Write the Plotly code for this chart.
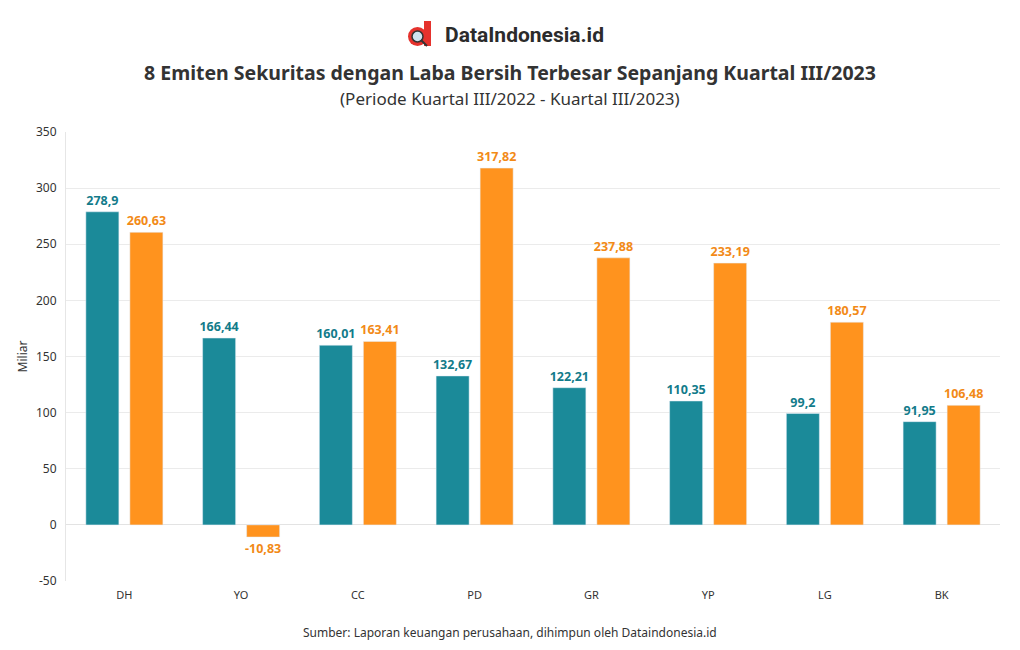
import plotly.graph_objects as go

categories = ["DH", "YO", "CC", "PD", "GR", "YP", "LG", "BK"]
q3_2022 = [278.9, 166.44, 160.01, 132.67, 122.21, 110.35, 99.2, 91.95]
q3_2023 = [260.63, -10.83, 163.41, 317.82, 237.88, 233.19, 180.57, 106.48]
series_names = ["Kuartal III/2022", "Kuartal III/2023"]
y_ticks = [-50, 0, 50, 100, 150, 200, 250, 300, 350]

teal = "#1b8a99"
orange = "#ff931e"
teal_txt = "#127b8a"
orange_txt = "#f28a17"

def fmt(v):
    s = ("%.2f" % v).rstrip("0").rstrip(".")
    return s.replace(".", ",")

fig = go.Figure()
fig.add_trace(go.Bar(x=categories, y=q3_2022, name=series_names[0], marker_color=teal,
                     text=[fmt(v) for v in q3_2022], textposition="outside",
                     textfont=dict(color=teal_txt, size=12.5, family="Noto Sans", weight="bold"),
                     constraintext="none", cliponaxis=False))
fig.add_trace(go.Bar(x=categories, y=q3_2023, name=series_names[1], marker_color=orange,
                     text=[fmt(v) for v in q3_2023], textposition="outside",
                     textfont=dict(color=orange_txt, size=12.5, family="Noto Sans", weight="bold"),
                     constraintext="none", cliponaxis=False))

# Figure placed at (8,8) in the page because of default body margin
W, H = 1004, 634
l, r, t, b = 58, 12, 124, 61
pw, ph = W - l - r, H - t - b
OFF = 8

def px2paper(x, y):
    return (x - OFF - l) / pw, (H - b - (y - OFF)) / ph

def ann(text, x, y, size, color="#333333", family="Noto Sans", xanchor="center"):
    px, py = px2paper(x, y)
    return dict(text=text, x=px, y=py, xref="paper", yref="paper", showarrow=False,
                xanchor=xanchor, yanchor="middle",
                font=dict(size=size, color=color, family=family))

fig.update_layout(
    width=W, height=H,
    margin=dict(l=l, r=r, t=t, b=b, autoexpand=False),
    paper_bgcolor="white", plot_bgcolor="white",
    barmode="group", bargap=0.246, bargroupgap=0.25,
    showlegend=False,
    font=dict(family="Noto Sans", color="#333333"),
    xaxis=dict(showgrid=False, showline=False, ticks="", tickfont=dict(size=11, color="#333"),
               ticklabelstandoff=6, automargin=False),
    yaxis=dict(range=[-50, 350], tickvals=y_ticks, ticktext=[str(v) for v in y_ticks],
               showgrid=True, gridcolor="#ebebeb", zeroline=True, automargin=False,
               zerolinecolor="#e3e3e3", zerolinewidth=1, showline=True, linecolor="#e6e6e6",
               tickfont=dict(size=12, color="#333"), ticklabelstandoff=6,
               title=dict(text="Miliar", font=dict(size=12, color="#333"), standoff=5)),
    annotations=[
        ann("<b>8 Emiten Sekuritas dengan Laba Bersih Terbesar Sepanjang Kuartal III/2023</b>", 510, 73, 19.5),
        ann("(Periode Kuartal III/2022 - Kuartal III/2023)", 510, 99, 17),
        ann("<b>DataIndonesia.id</b>", 443, 35, 21, color="#2b2b2b", family="Roboto", xanchor="left"),
        ann("Sumber: Laporan keuangan perusahaan, dihimpun oleh Dataindonesia.id", 510, 632, 12),
    ],
)

# Logo icon (red "d" with magnifier)
def shape_box(kind, xa, ya, xb, yb, **kw):
    x0, y0 = px2paper(xa, yb); x1, y1 = px2paper(xb, ya)
    fig.add_shape(type=kind, xref="paper", yref="paper", x0=x0, y0=y0, x1=x1, y1=y1, **kw)

shape_box("circle", 408, 27, 427, 46, fillcolor="#e5322d", line=dict(width=0))
shape_box("rect", 424, 21, 431, 46, fillcolor="#e5322d", line=dict(width=0))
shape_box("circle", 412, 31, 423, 42, fillcolor="#cfe3f0", line=dict(color="#333", width=1.5))
x0, y0 = px2paper(421, 40); x1, y1 = px2paper(427, 46)
fig.add_shape(type="line", xref="paper", yref="paper", x0=x0, y0=y0, x1=x1, y1=y1,
              line=dict(color="#333", width=2))

fig.write_html("out.html")
